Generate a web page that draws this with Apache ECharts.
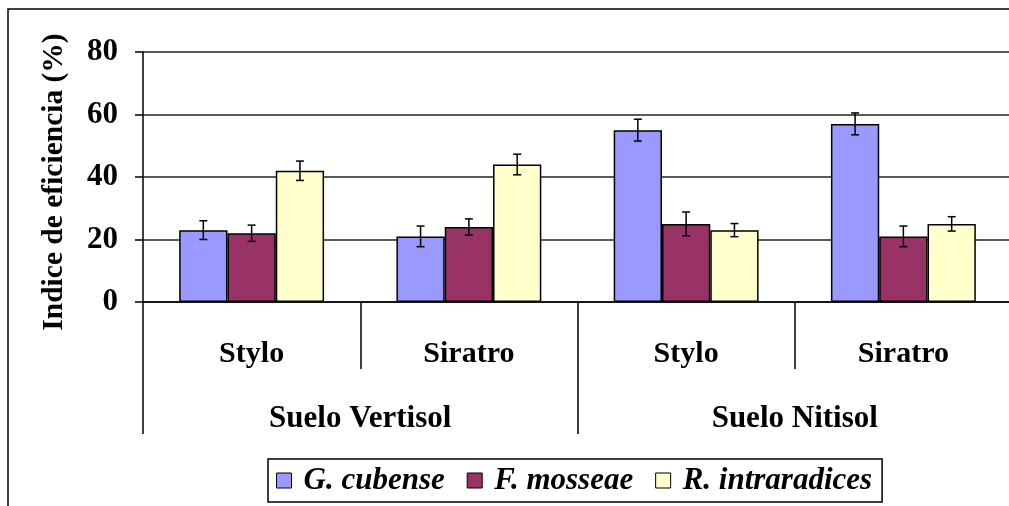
<!DOCTYPE html>
<html>
<head>
<meta charset="utf-8">
<script src="https://cdn.jsdelivr.net/npm/echarts@6/dist/echarts.min.js"></script>
<style>
  html, body { margin: 0; padding: 0; background: #fff; }
  #chart { width: 1009px; height: 506px; }
</style>
</head>
<body>
<div id="chart"></div>
<script>
// Cultivos (nivel inferior) y tipos de suelo (nivel superior) del eje X
const cultivos = ['Stylo', 'Siratro', 'Stylo', 'Siratro'];
const suelos = ['Suelo Vertisol', 'Suelo Nitisol'];
const yTicks = [0, 20, 40, 60, 80];

// Índice de eficiencia (%) por especie de HMA
const seriesNames = ['G. cubense', 'F. mosseae', 'R. intraradices'];
const gCubense = [23, 21, 55, 57];
const fMosseae = [22, 24, 25, 21];
const rIntraradices = [42, 44, 23, 25];

// Error estándar de cada media
const gCubenseErr = [3.0, 3.3, 3.5, 3.5];
const fMosseaeErr = [2.6, 2.6, 3.8, 3.3];
const rIntraradicesErr = [3.1, 3.3, 2.1, 2.3];

const colors = ['#9999FF', '#993366', '#FFFFCC'];
const FONT = '"Times New Roman", "Liberation Serif", serif';
const CAT_GAP = 0.333;   // fracción libre de cada categoría
const values = [gCubense, fMosseae, rIntraradices];
const errors = [gCubenseErr, fMosseaeErr, rIntraradicesErr];

const barSeries = seriesNames.map((name, k) => ({
  name: name,
  type: 'bar',
  xAxisIndex: 0,
  yAxisIndex: 0,
  data: values[k],
  barGap: '0%',
  barCategoryGap: (CAT_GAP * 100).toFixed(1) + '%',
  itemStyle: { color: colors[k], borderColor: '#000', borderWidth: 1.5 },
  emphasis: { disabled: true }
}));

// Barras de error dibujadas sobre el centro de cada barra
const errorSeries = seriesNames.map((name, k) => ({
  name: name + ' error',
  type: 'custom',
  xAxisIndex: 0,
  yAxisIndex: 0,
  z: 10,
  silent: true,
  encode: { x: 0, y: 1 },
  data: values[k].map((v, i) => [i, v, errors[k][i]]),
  renderItem: function (params, api) {
    const i = api.value(0), v = api.value(1), e = api.value(2);
    const band = api.size([1, 0])[0];
    const bw = band * (1 - CAT_GAP) / 3;
    const off = (k - 1) * bw;
    const hi = api.coord([i, v + e]);
    const lo = api.coord([i, v - e]);
    const x = hi[0] + off;
    const cap = 4;
    const style = { stroke: '#000', lineWidth: 1.5 };
    return {
      type: 'group',
      children: [
        { type: 'line', shape: { x1: x, y1: hi[1], x2: x, y2: lo[1] }, style: style },
        { type: 'line', shape: { x1: x - cap, y1: hi[1], x2: x + cap, y2: hi[1] }, style: style },
        { type: 'line', shape: { x1: x - cap, y1: lo[1], x2: x + cap, y2: lo[1] }, style: style }
      ]
    };
  }
}));

const chart = echarts.init(document.getElementById('chart'), null, { renderer: 'canvas' });

chart.setOption({
  animation: false,
  backgroundColor: '#fff',
  textStyle: { fontFamily: FONT },
  graphic: [{
    type: 'rect',
    shape: { x: 8, y: 9, width: 1020, height: 520 },
    style: { fill: 'none', stroke: '#000', lineWidth: 1.5 },
    silent: true
  }],
  grid: {
    left: 143, top: 52, width: 869, height: 250,
    containLabel: false, outerBoundsMode: 'none'
  },
  legend: {
    data: seriesNames,
    left: 268,
    top: 459,
    padding: [6, 10, 6, 8],
    itemGap: 22,
    itemWidth: 15,
    itemHeight: 15,
    icon: 'rect',
    borderColor: '#000',
    borderWidth: 1.5,
    itemStyle: { borderColor: '#000', borderWidth: 1 },
    textStyle: {
      fontFamily: FONT, fontSize: 31, fontWeight: 'bold', fontStyle: 'italic',
      color: '#000', padding: [0, 0, 0, 7]
    }
  },
  xAxis: [
    {
      type: 'category',
      data: cultivos,
      position: 'bottom',
      axisLine: { show: true, lineStyle: { color: '#000', width: 1.5 } },
      axisTick: { show: true, length: 67, interval: 0, lineStyle: { color: '#000', width: 1.5 } },
      axisLabel: {
        interval: 0, margin: 37, color: '#000',
        fontFamily: FONT, fontSize: 30, fontWeight: 'bold'
      },
      splitLine: { show: false }
    },
    {
      type: 'category',
      data: suelos,
      position: 'bottom',
      axisLine: { show: false },
      axisTick: { show: true, length: 132, interval: 0, lineStyle: { color: '#000', width: 1.5 } },
      axisLabel: {
        interval: 0, margin: 101, color: '#000',
        fontFamily: FONT, fontSize: 31, fontWeight: 'bold'
      },
      splitLine: { show: false }
    }
  ],
  yAxis: {
    type: 'value',
    min: yTicks[0],
    max: yTicks[yTicks.length - 1],
    interval: yTicks[1] - yTicks[0],
    name: 'Indice de eficiencia (%)',
    nameLocation: 'middle',
    nameRotate: 90,
    nameGap: 74,
    nameTextStyle: {
      fontFamily: FONT, fontSize: 29.5, fontWeight: 'bold', color: '#000',
      padding: [0, 10, 0, 0]
    },
    axisLine: { show: true, lineStyle: { color: '#000', width: 1.5 } },
    axisTick: { show: true, length: 8, lineStyle: { color: '#000', width: 1.5 } },
    axisLabel: { margin: 25, color: '#000', fontFamily: FONT, fontSize: 31, fontWeight: 'bold' },
    splitLine: { show: true, lineStyle: { color: '#222', width: 1.5 } }
  },
  series: barSeries.concat(errorSeries)
});
</script>
</body>
</html>
